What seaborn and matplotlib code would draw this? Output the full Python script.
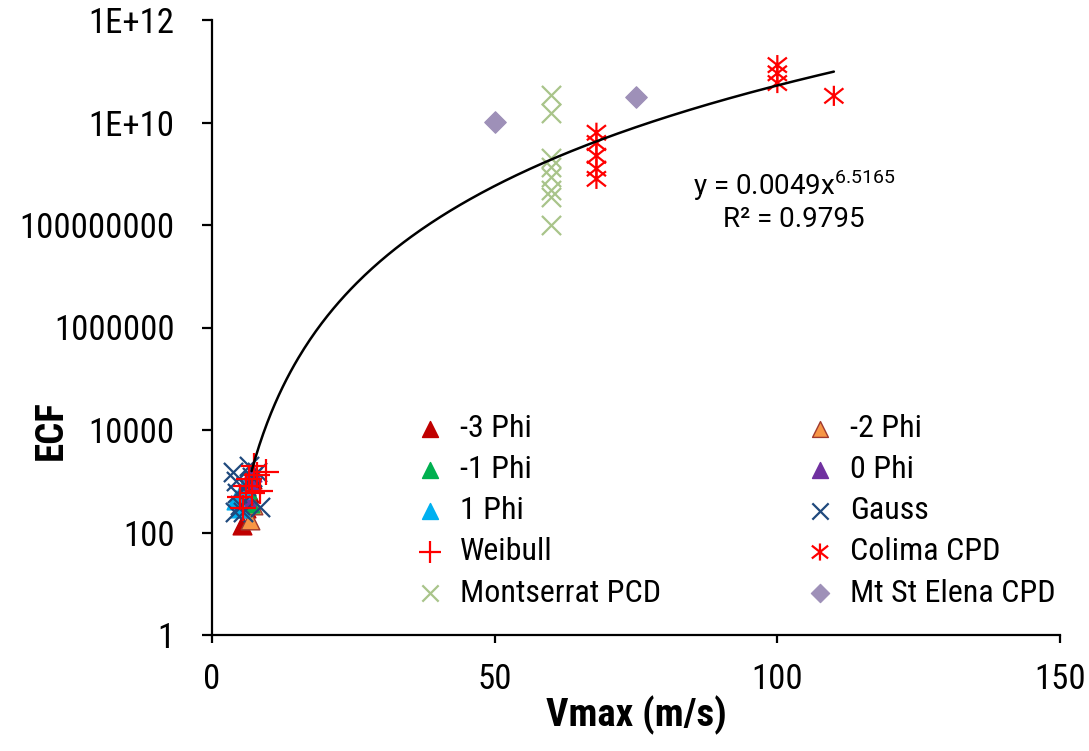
import numpy as np
import pandas as pd
import matplotlib
matplotlib.use("Agg")
import matplotlib.pyplot as plt
import seaborn as sns
from matplotlib.path import Path
from matplotlib.ticker import FixedLocator, FixedFormatter
from matplotlib import font_manager

# data (Vmax in m/s, ECF)
phi_m3_x = [5.3, 6.0, 6.5, 7.0]
phi_m3_y = [140, 300, 600, 1100]
phi_m2_x = [6.7, 7.2]
phi_m2_y = [175, 350]
phi_m1_x = [6.8, 6.2]
phi_m1_y = [380, 700]
phi_0_x = [6.5, 6.0, 7.0]
phi_0_y = [1000, 500, 1500]
phi_1_x = [4.2, 5.0, 5.5]
phi_1_y = [430, 300, 700]
gauss_x = [3.8, 4.2, 4.5, 5.0, 5.5, 6.0, 7.0, 8.0, 8.5, 4.0, 6.5]
gauss_y = [1500, 1000, 600, 350, 250, 800, 1200, 1500, 320, 250, 2000]
weibull_x = [5.0, 5.5, 6.5, 7.5, 8.0, 9.5, 6.0, 7.0, 8.5]
weibull_y = [500, 300, 1100, 2000, 1300, 1500, 800, 600, 650]
colima_x = [68, 68, 68, 68, 68, 100, 100, 100, 110]
colima_y = [10**9.8, 10**9.6, 10**9.35, 10**9.1, 10**8.9, 10**11.12, 10**10.96, 10**10.77, 10**10.52]
montserrat_x = [60] * 8
montserrat_y = [10**10.54, 10**10.19, 10**9.31, 10**9.13, 10**8.94, 10**8.68, 10**8.55, 10**8.0]
helens_x = [50, 75]
helens_y = [10**10.01, 10**10.5]

# power-law trendline from the chart
fit_a, fit_b = 0.0049, 6.5165
fit_x = np.linspace(7, 110, 300)

y_ticks = [1, 1e2, 1e4, 1e6, 1e8, 1e10, 1e12]
y_labels = ["1", "100", "10000", "1000000", "100000000", "1E+10", "1E+12"]

sns.set_style("white")

# pick a narrow face if one is installed, otherwise plain Liberation Sans
have = {f.name for f in font_manager.fontManager.ttflist}
narrow = None
for cand in ["Liberation Sans Narrow", "DejaVu Sans Condensed", "Roboto Condensed"]:
    if cand in have:
        narrow = cand
        break
if narrow:
    base, tick_fs, lab_fs, leg_fs = narrow, 25, 28, 23
else:
    base, tick_fs, lab_fs, leg_fs = "Liberation Sans", 23, 25, 20
plt.rcParams["font.family"] = [base, "DejaVu Sans"]
plt.rcParams["mathtext.fontset"] = "custom"
plt.rcParams["mathtext.rm"] = "Roboto"

fig = plt.figure(figsize=(10.89, 7.51), dpi=100)
ax = fig.add_axes([212 / 1089, 1 - 635 / 751, 848 / 1089, 615 / 751])

# asterisk marker (x with a vertical bar), like Excel's "*"
star = Path([(0, -1), (0, 1), (-0.95, -0.75), (0.95, 0.75), (-0.95, 0.75), (0.95, -0.75)],
            [Path.MOVETO, Path.LINETO, Path.MOVETO, Path.LINETO, Path.MOVETO, Path.LINETO])

series = [
    ("-3 Phi", phi_m3_x, phi_m3_y, dict(marker="^", s=180, color="#C00000", edgecolor="#C00000")),
    ("-2 Phi", phi_m2_x, phi_m2_y, dict(marker="^", s=180, color="#F79646", edgecolor="#A0392E", linewidth=1)),
    ("-1 Phi", phi_m1_x, phi_m1_y, dict(marker="^", s=180, color="#00B050", edgecolor="#00B050")),
    ("0 Phi", phi_0_x, phi_0_y, dict(marker="^", s=180, color="#7030A0", edgecolor="#7030A0")),
    ("1 Phi", phi_1_x, phi_1_y, dict(marker="^", s=180, color="#00B0F0", edgecolor="#00B0F0")),
    ("Gauss", gauss_x, gauss_y, dict(marker="x", s=190, color="#1F497D", linewidth=1.6)),
    ("Weibull", weibull_x, weibull_y, dict(marker="+", s=330, color="#FF0000", linewidth=1.6)),
    ("Colima CPD", colima_x, colima_y, dict(marker=star, s=210, color="#FF0000", linewidth=1.6)),
    ("Montserrat PCD", montserrat_x, montserrat_y, dict(marker="x", s=190, color="#A9C48A", linewidth=1.6)),
    ("Mt St Elena CPD", helens_x, helens_y, dict(marker="D", s=120, color="#9E90B8", edgecolor="#9E90B8")),
]

for name, xs, ys, kw in series:
    df = pd.DataFrame({"x": xs, "y": ys})
    sns.scatterplot(data=df, x="x", y="y", ax=ax, label=name, zorder=3, **kw)
    if name == "Colima CPD":
        coll = ax.collections[-1]
        coll.set_facecolor("none")
        coll.set_edgecolor("#FF0000")
        coll.set_linewidth(1.6)

ax.plot(fit_x, fit_a * fit_x ** fit_b, color="black", linewidth=1.8, zorder=4)

ax.set_yscale("log")
ax.set_xlim(0, 150)
ax.set_ylim(1, 1e12)
ax.yaxis.set_major_locator(FixedLocator(y_ticks))
ax.yaxis.set_major_formatter(FixedFormatter(y_labels))
ax.yaxis.set_minor_locator(FixedLocator([]))
ax.set_xticks([0, 50, 100, 150])
ax.tick_params(axis="both", labelsize=tick_fs, width=1.6, color="black", direction="out",
               left=True, bottom=True, labelcolor="black")
ax.tick_params(axis="y", length=7, pad=20)
ax.tick_params(axis="x", length=6, pad=14)
for side in ["top", "right"]:
    ax.spines[side].set_visible(False)
for side in ["left", "bottom"]:
    ax.spines[side].set_color("black")
    ax.spines[side].set_linewidth(1.6)

ax.set_xlabel("Vmax (m/s)", fontsize=lab_fs, fontweight="bold", labelpad=0, color="black")
ax.set_ylabel("ECF", fontsize=lab_fs, fontweight="bold", color="black")
ax.yaxis.set_label_coords((70 - 212) / 848, (635 - 430) / 615)

ax.text(103, 10**8.78, r"y = 0.0049x$^{\mathrm{6.5165}}$", fontsize=20, ha="center", va="center",
        family="Roboto", color="black")
ax.text(103, 10**8.10, "R² = 0.9795", fontsize=20, ha="center", va="center",
        family="Roboto", color="black")

# legend: two separate columns pinned where the reference has them
h, l = ax.get_legend_handles_labels()
leg_kw = dict(frameon=False, fontsize=leg_fs, handlelength=1.0, handletextpad=0.45,
              labelspacing=0.38, markerscale=0.85, borderaxespad=0, borderpad=0,
              loc="upper left", labelcolor="black")
col1 = [0, 2, 4, 6, 8]
col2 = [1, 3, 5, 7, 9]
leg1 = ax.legend([h[i] for i in col1], [l[i] for i in col1],
                 bbox_to_anchor=((414 - 212) / 848, (635 - 414) / 615), **leg_kw)
ax.add_artist(leg1)
ax.legend([h[i] for i in col2], [l[i] for i in col2],
          bbox_to_anchor=((804 - 212) / 848, (635 - 414) / 615), **leg_kw)

fig.savefig("out.png", dpi=100)
